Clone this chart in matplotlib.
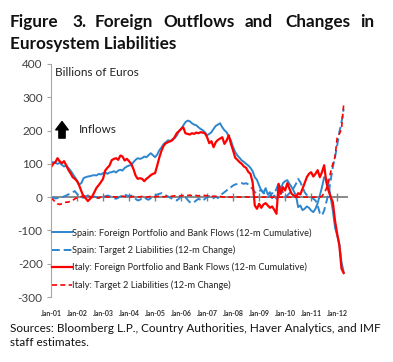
import numpy as np
import matplotlib
matplotlib.use('Agg')
import matplotlib.pyplot as plt

plt.rcParams['font.family'] = ['Lato', 'DejaVu Sans']

# monthly values, Jan-01 .. Apr-12 (billions of euros)
spain_flows = [105, 105, 103, 100, 103, 97, 92, 95, 88, 80, 70, 60,
               50, 38, 42, 57, 60, 62, 63, 65, 66, 65, 70, 68,
               72, 75, 70, 74, 75, 78, 74, 80, 82, 80, 88, 92,
               95, 96, 105, 112, 117, 115, 117, 122, 120, 126, 132, 126,
               120, 128, 141, 150, 160, 165, 171, 168, 174, 177, 185, 198,
               205, 215, 225, 230, 228, 222, 218, 216, 210, 205, 201, 195,
               186, 190, 195, 205, 214, 218, 222, 210, 201, 195, 182, 170,
               150, 135, 125, 118, 110, 106, 100, 95, 88, 78, 60, 52,
               35, 20, 12, 27, 8, 15, -3, 5, -5, 0, 25, 42,
               48, 51, 40, 30, 18, 5, -30, -25, -39, -35, -28, -32,
               -40, -45, -35, -18, 5, 30, 60, 55, 40, 0, -40, -90,
               -115, -140, -195, -225]

spain_target2 = [0, -2, -4, -3, -2, 0, 2, 5, 8, 12, 15, 18,
                 10, 3, 0, -2, 2, 5, 3, 0, 2, 0, -3, -2,
                 0, 2, 5, 3, 0, -3, -5, -2, 2, 5, 8, 5,
                 3, 5, 2, -5, -10, -8, -3, 0, -5, -8, -3, 2,
                 5, 8, 10, 12, 8, 5, 2, -2, -5, -8, -10, -5,
                 2, 5, 0, -8, -15, -18, -15, -10, -5, -8, -12, -5,
                 0, 3, -5, -3, 2, -3, 5, 10, 15, 20, 28, 30,
                 35, 38, 40, 42, 42, 40, 42, 38, 30, 25, 15, 12,
                 18, 22, 15, 5, 0, 5, 12, 10, 25, 42, 30, 15,
                 0, 5, 12, 20, 28, 40, 55, 45, 30, 15, 6, 3,
                 0, -5, -10, -25, -48, -55, -40, -15, 10, 50, 90, 120,
                 155, 195, 225, 265]

italy_flows = [90, 100, 105, 117, 108, 102, 108, 96, 82, 72, 60, 55,
               48, 35, 18, 2, -3, -12, -5, 2, 15, 28, 36, 45,
               55, 80, 88, 95, 111, 115, 117, 112, 125, 122, 110, 115,
               108, 100, 85, 65, 55, 57, 55, 48, 55, 60, 66, 70,
               72, 95, 120, 140, 155, 162, 165, 168, 171, 180, 192, 198,
               205, 210, 192, 190, 188, 192, 190, 194, 192, 195, 194, 192,
               180, 162, 168, 150, 165, 172, 176, 180, 160, 170, 186, 160,
               140, 118, 112, 105, 100, 92, 88, 76, 70, 45, -25, -35,
               -20, -32, -22, -18, -25, -32, -28, -38, -50, 40, 10, 30,
               20, 42, 25, 10, 5, 0, 12, 8, 25, 42, 60, 70,
               75, 62, 70, 81, 60, 75, 96, 45, 20, 0, -15, -70,
               -110, -145, -215, -228]

italy_target2 = [-3, -8, -15, -20, -22, -20, -18, -15, -15, -12, -10, -5,
                 -2, 0, 2, 3, 5, 3, 2, 0, -2, -3, -2, 0,
                 1, 2, 0, 1, 2, 1, 0, 1, 2, 3, 2, 1,
                 0, 1, 2, 1, 0, 1, 2, 1, 0, 1, 2, 2,
                 1, 2, 3, 2, 1, 2, 3, 2, 3, 4, 3, 3,
                 4, 5, 4, 5, 6, 5, 6, 5, 4, 5, 6, 5,
                 4, 3, 2, 3, 2, 1, 2, 1, 0, 1, 0, 0,
                 0, 0, 1, 0, 0, 0, 1, 0, 0, 0, 0, 0,
                 0, 0, 0, 0, 0, 0, 0, 0, 0, 0, 0, 0,
                 0, 0, 0, 0, 0, 0, 0, 0, 0, 0, 0, 0,
                 0, 0, 0, 0, 0, 3, 12, 25, 45, 75, 100, 120,
                 178, 190, 205, 278]

year_labels = ['Jan-01', 'Jan-02', 'Jan-03', 'Jan-04', 'Jan-05', 'Jan-06',
               'Jan-07', 'Jan-08', 'Jan-09', 'Jan-10', 'Jan-11', 'Jan-12']
y_ticks = [-300, -200, -100, 0, 100, 200, 300, 400]

blue = '#2E86CF'
red = '#FF0000'

fig = plt.figure(figsize=(3.93, 3.62), dpi=100)
W, H = 393, 362
ax = fig.add_axes([51 / W, (H - 297) / H, 297 / W, 233 / H])

months = np.arange(len(spain_flows))
ax.plot(months, spain_flows, color=blue, lw=1.4,
        label='Spain: Foreign Portfolio and Bank Flows (12-m Cumulative)')
ax.plot(months, spain_target2, color=blue, lw=1.4, ls=(0, (4, 2)),
        label='Spain: Target 2 Liabilities (12-m Change)')
ax.plot(months, italy_flows, color=red, lw=1.6,
        label='Italy: Foreign Portfolio and Bank Flows (12-m Cumulative)')
ax.plot(months, italy_target2, color=red, lw=1.2, ls=(0, (3, 2)),
        label='Italy: Target 2 Liabilities (12-m Change)')

# zero line acting as the category axis, with year tick marks crossing it
tick_pos = np.arange(len(year_labels)) * 12
ax.axhline(0, color='#808080', lw=1.3, zorder=1)
ax.plot(tick_pos[1:], np.zeros(len(tick_pos) - 1), ls='none', marker='|',
        ms=6, mew=1.0, color='#808080', zorder=1)

ax.set_xlim(0, 137)
ax.set_ylim(-300, 400)
ax.set_yticks(y_ticks)
ax.set_yticklabels([str(v) for v in y_ticks], fontsize=8.5, color='#404040')
ax.set_xticks(tick_pos)
ax.set_xticklabels(year_labels, fontsize=5, fontweight='bold', color='#333333')
ax.tick_params(axis='x', length=0, pad=9)
ax.tick_params(axis='y', length=3, color='#A6A6A6', pad=3)
for s in ['top', 'right', 'bottom']:
    ax.spines[s].set_visible(False)
ax.spines['left'].set_color('#A6A6A6')
ax.spines['left'].set_linewidth(0.8)

ax.text(0.015, 0.965, 'Billions of Euros', transform=ax.transAxes,
        fontsize=8.5, color='#222222', va='center')
ax.annotate('', xy=(11 / 297, 0.765), xytext=(11 / 297, 0.67),
            xycoords='axes fraction',
            arrowprops=dict(arrowstyle='simple,head_width=0.9,head_length=0.6,tail_width=0.45',
                            color='black'))
ax.text(28 / 297, 0.72, 'Inflows', transform=ax.transAxes,
        fontsize=8.5, color='#222222', va='center')

leg = ax.legend(loc='upper left', bbox_to_anchor=(52 / W, (H - 228) / H),
                bbox_transform=fig.transFigure, frameon=False, fontsize=6.7,
                handlelength=2.1, handletextpad=0.1, labelspacing=0.85,
                borderpad=0, borderaxespad=0)
for t in leg.get_texts():
    t.set_color('#222222')

# title, words spread across the first line
title_words = ['Figure', '3.', 'Foreign', 'Outflows', 'and', 'Changes', 'in']
title_x = [10, 72, 95, 163, 245, 285, 360]
for word, xp in zip(title_words, title_x):
    fig.text(xp / W, 1 - 22 / H, word, fontsize=12.3, fontweight='bold',
             color='#111111', va='center', ha='left')
fig.text(10 / W, 1 - 44 / H, 'Eurosystem Liabilities', fontsize=12.3,
         fontweight='bold', color='#111111', va='center', ha='left')

fig.text(10 / W, 1 - 328 / H,
         'Sources: Bloomberg L.P., Country Authorities, Haver Analytics, and IMF',
         fontsize=8.5, color='#111111', va='center', ha='left')
fig.text(10 / W, 1 - 343 / H, 'staff estimates.', fontsize=8.5,
         color='#111111', va='center', ha='left')

fig.savefig('out.png', dpi=100)
